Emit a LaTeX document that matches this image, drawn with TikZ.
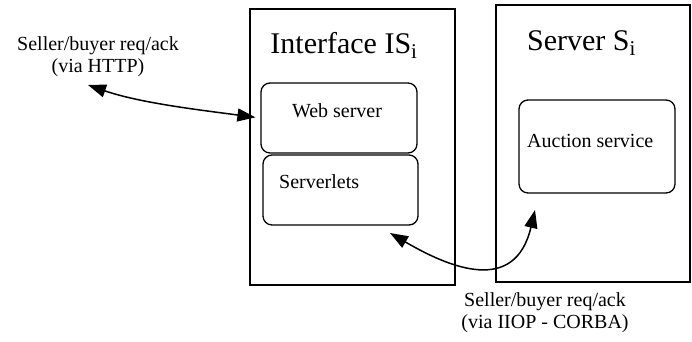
\documentclass[tikz,border=0pt]{standalone}
\usepackage{fontspec}
\setmainfont{Liberation Serif}
\usetikzlibrary{arrows.meta}

\begin{document}
\begin{tikzpicture}
  [x=1pt, y=-1pt,
   host/.style={draw, line width=1.3pt, inner sep=0pt},
   part/.style={draw, line width=1.3pt, rounded corners=9pt, inner sep=0pt},
   txt/.style={font=\fontsize{20}{22}\selectfont, inner sep=0pt},
   title/.style={font=\fontsize{30}{34}\selectfont, inner sep=0pt, anchor=base},
   msg/.style={txt, align=center, anchor=base},
   link/.style={line width=1.5pt, {Triangle[length=18pt, width=13pt]}-{Triangle[length=18pt, width=13pt]}}]

  \useasboundingbox (0,0) rectangle (692,341);

  % hosts
  \node [host, minimum width=205pt, minimum height=276pt] (IS) at (352.5,147) {};
  \node [host, minimum width=194pt, minimum height=277pt] (S)  at (593,143.5) {};
  \node [title] (IS-title) at (344,53) {Interface IS\textsubscript{i}};
  \node [title] (S-title)  at (581.5,50) {Server S\textsubscript{i}};

  % parts
  \node [part, minimum width=156pt, minimum height=70pt] (web)     at (339,118) {};
  \node [part, minimum width=155pt, minimum height=70pt] (servlet) at (340.5,190) {};
  \node [part, minimum width=156pt, minimum height=93pt] (auction) at (597,146.5) {};
  \node [txt, anchor=base]      (web-text)     at (337,117) {Web server};
  \node [txt, anchor=base west] (servlet-text) at (279,188) {Serverlets};
  \node [txt, anchor=base west] (auction-text) at (527,147) {Auction service};

  % messages
  \node [msg] (http-text) at (98,72)  {Seller/buyer req/ack\\(via HTTP)};
  \node [msg] (iiop-text) at (545,328) {Seller/buyer req/ack\\(via IIOP - CORBA)};

  \coordinate (http-start) at (88,85);
  \coordinate (iiop-start) at (390,233);
  \coordinate (iiop-end)   at (535,210);

  \draw [link, shorten >=5pt] (http-start) .. controls (140,103) and (200,110) .. (web.west);
  \draw [link] (iiop-start) .. controls (450,268) and (515,295) .. (iiop-end);
\end{tikzpicture}
\end{document}
